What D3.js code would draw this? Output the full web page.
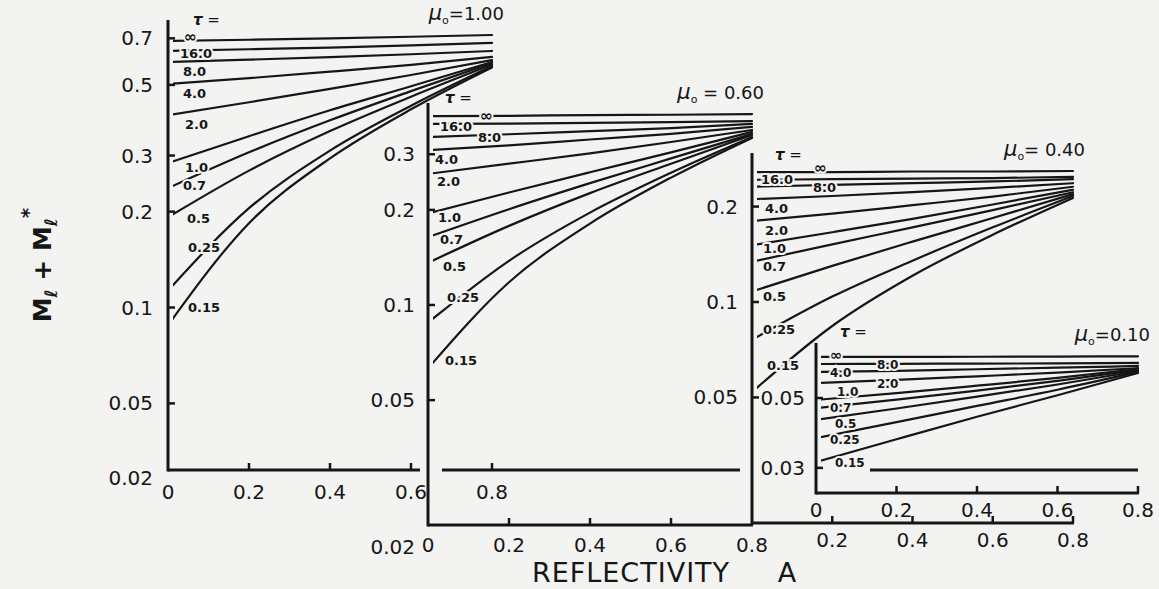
<!DOCTYPE html>
<html>
<head>
<meta charset="utf-8">
<script src="https://cdn.jsdelivr.net/npm/d3@7"></script>
<style>
body { margin: 0; background: #f3f3f1; }
svg { display: block; }
text { font-family: "DejaVu Sans", sans-serif; fill: #161616; }
</style>
</head>
<body>
<svg width="1159" height="589"></svg>
<script>
var reflectivity = [0, 0.2, 0.4, 0.6, 0.8];

var tau = ["∞", "16.0", "8.0", "4.0", "2.0", "1.0", "0.7", "0.5", "0.25", "0.15"];
var tau010 = ["∞", "8.0", "4.0", "2.0", "1.0", "0.7", "0.5", "0.25", "0.15"];

// M + M* for each tau, mu0 = 1.00
var mu100 = [
  [0.687, 0.693, 0.700, 0.708, 0.717],
  [0.639, 0.647, 0.655, 0.665, 0.677],
  [0.590, 0.600, 0.611, 0.624, 0.639],
  [0.503, 0.525, 0.550, 0.578, 0.612],
  [0.402, 0.441, 0.486, 0.537, 0.598],
  [0.284, 0.345, 0.416, 0.495, 0.590],
  [0.237, 0.307, 0.387, 0.478, 0.586],
  [0.192, 0.269, 0.358, 0.459, 0.579],
  [0.113, 0.205, 0.311, 0.430, 0.573],
  [0.088, 0.184, 0.294, 0.419, 0.567]
];
// mu0 = 0.60
var mu060 = [
  [0.396, 0.397, 0.399, 0.400, 0.402],
  [0.374, 0.375, 0.377, 0.379, 0.382],
  [0.340, 0.347, 0.355, 0.363, 0.374],
  [0.309, 0.320, 0.334, 0.348, 0.366],
  [0.260, 0.280, 0.302, 0.328, 0.358],
  [0.195, 0.227, 0.263, 0.304, 0.353],
  [0.164, 0.201, 0.243, 0.291, 0.348],
  [0.136, 0.178, 0.226, 0.280, 0.345],
  [0.088, 0.138, 0.196, 0.262, 0.340],
  [0.063, 0.118, 0.181, 0.253, 0.338]
];
// mu0 = 0.40
var mu040 = [
  [0.257, 0.257, 0.258, 0.258, 0.259],
  [0.243, 0.244, 0.245, 0.246, 0.248],
  [0.231, 0.234, 0.237, 0.240, 0.244],
  [0.211, 0.216, 0.222, 0.229, 0.237],
  [0.180, 0.190, 0.202, 0.215, 0.231],
  [0.151, 0.166, 0.183, 0.203, 0.226],
  [0.134, 0.152, 0.172, 0.195, 0.222],
  [0.108, 0.130, 0.155, 0.184, 0.219],
  [0.076, 0.104, 0.135, 0.172, 0.216],
  [0.052, 0.084, 0.121, 0.163, 0.213]
];
// mu0 = 0.10
var mu010 = [
  [0.0675, 0.0675, 0.0676, 0.0677, 0.0678],
  [0.0641, 0.0642, 0.0643, 0.0644, 0.0646],
  [0.0605, 0.0610, 0.0617, 0.0624, 0.0632],
  [0.0558, 0.0571, 0.0586, 0.0602, 0.0622],
  [0.0493, 0.0518, 0.0547, 0.0579, 0.0618],
  [0.0464, 0.0494, 0.0528, 0.0567, 0.0614],
  [0.0426, 0.0463, 0.0505, 0.0552, 0.0609],
  [0.0373, 0.0419, 0.0472, 0.0531, 0.0605],
  [0.0313, 0.0370, 0.0436, 0.0510, 0.0600]
];

var yTicks100 = [0.7, 0.5, 0.3, 0.2, 0.1, 0.05];
var yTicks060 = [0.3, 0.2, 0.1, 0.05];
var yTicks040 = [0.2, 0.1, 0.05];
var yTicks010 = [0.05, 0.03];
var xTicks = [0, 0.2, 0.4, 0.6, 0.8];

var svg = d3.select("svg");
var paper = "#f3f3f1", ink = "#161616";

// layout of the four overlapping panels (pixels)
var panels = [
  { mu: "=1.00", tau: tau, values: mu100, yTicks: yTicks100, bottomLabel: "0.02", bottomDy: 8,
    ox: 168, width: 324, top: 20, bottom: 470, yRef: [0.1, 307.5], decade: 318.5,
    xLabels: [0, 0.2, 0.4, 0.6, 0.8], xTickMarks: [0.2, 0.4, 0.6, 0.8], xLabelDy: 22, yLabelGap: 15,
    tauPos: [25, 0], labelSize: 13, drawXAxis: false,
    labels: [[16,-4],[12,3],[15,10],[15,9],[17,9],[17,4],[15,-3],[19,1],[20,-43],[20,-18]] },
  { mu: " = 0.60", tau: tau, values: mu060, yTicks: yTicks060, bottomLabel: "0.02", bottomDy: 22,
    ox: 428, width: 324, top: 103, bottom: 525, yRef: [0.1, 305], decade: 316,
    xLabels: [0, 0.2, 0.4, 0.6, 0.8], xTickMarks: [0.2, 0.4, 0.6], xLabelDy: 20, yLabelGap: 13,
    tauPos: [17, -5], labelSize: 13, drawXAxis: true,
    labels: [[52,0],[12,3],[50,0],[7,9],[9,8],[10,4],[12,2],[15,4],[19,-25],[17,-8]] },
  { mu: "= 0.40", tau: tau, values: mu040, yTicks: yTicks040, bottomLabel: null,
    ox: 752, width: 321, top: 153, bottom: 523, yRef: [0.1, 302], decade: 317,
    xLabels: [0.2, 0.4, 0.6, 0.8], xTickMarks: [0.2, 0.4, 0.6, 0.8], xLabelDy: 17, yLabelGap: 14,
    tauPos: [23, 2], labelSize: 13, drawXAxis: true,
    labels: [[62,-4],[9,0],[61,1],[13,9],[13,9],[11,3],[11,5],[11,5],[11,-10],[15,-27]] },
  { mu: "=0.10", tau: tau010, values: mu010, yTicks: yTicks010, bottomLabel: null,
    ox: 816, width: 322, top: 343, bottom: 493, yRef: [0.05, 398], decade: 315,
    xLabels: [0, 0.2, 0.4, 0.6, 0.8], xTickMarks: [0.2, 0.4, 0.6, 0.8], xLabelDy: 17, yLabelGap: 11,
    tauPos: [24, -11], labelSize: 12, drawXAxis: true,
    labels: [[14,-2],[61,1],[14,1],[61,1],[21,-8],[14,0],[19,4],[14,2],[19,1]] }
];

// panel 1 base line runs on behind the other panels
var baseline100 = [[168, 420], [442, 740], [870, 1138]];

panels.forEach(function (p, k) {
  var x = d3.scaleLinear().domain([0, 0.8]).range([p.ox, p.ox + p.width]);
  var y = d3.scaleLog().domain([p.yRef[0], p.yRef[0] * 10]).range([p.yRef[1], p.yRef[1] - p.decade]);
  var g = svg.append("g");

  // curves stop a few pixels short of the axis, as drawn
  var clipId = "clip" + k;
  svg.append("clipPath").attr("id", clipId).append("rect")
    .attr("x", p.ox + 5).attr("y", 0).attr("width", p.width + 10).attr("height", 589);

  var line = d3.line()
    .x(function (d, i) { return x(reflectivity[i]); })
    .y(function (d) { return y(d); })
    .curve(d3.curveMonotoneX);

  g.append("g").attr("clip-path", "url(#" + clipId + ")")
    .selectAll("path").data(p.values).enter().append("path")
    .attr("d", line)
    .attr("fill", "none").attr("stroke", ink).attr("stroke-width", 2.2)
    .attr("stroke-linecap", "round");

  // axes
  g.append("line").attr("x1", p.ox).attr("x2", p.ox).attr("y1", p.top).attr("y2", p.bottom + 1.5)
    .attr("stroke", ink).attr("stroke-width", 3);
  if (p.drawXAxis) {
    g.append("line").attr("x1", p.ox).attr("x2", x(0.8) + 1).attr("y1", p.bottom).attr("y2", p.bottom)
      .attr("stroke", ink).attr("stroke-width", 3);
  } else {
    baseline100.forEach(function (s) {
      g.append("line").attr("x1", s[0]).attr("x2", s[1]).attr("y1", p.bottom).attr("y2", p.bottom)
        .attr("stroke", ink).attr("stroke-width", 3);
    });
  }
  g.selectAll(".xt").data(p.xTickMarks).enter().append("line")
    .attr("x1", function (d) { return x(d); }).attr("x2", function (d) { return x(d); })
    .attr("y1", p.bottom).attr("y2", p.bottom - 7)
    .attr("stroke", ink).attr("stroke-width", 2.5);

  g.selectAll(".xl").data(p.xLabels).enter().append("text")
    .attr("x", function (d) { return x(d); })
    .attr("y", p.bottom + p.xLabelDy)
    .attr("text-anchor", "middle").attr("dominant-baseline", "central")
    .style("font-size", "20px")
    .text(function (d) { return d === 0 ? "0" : d3.format(".1f")(d); });

  g.selectAll(".yt").data(p.yTicks).enter().append("line")
    .attr("x1", p.ox).attr("x2", p.ox + 7)
    .attr("y1", function (d) { return y(d); }).attr("y2", function (d) { return y(d); })
    .attr("stroke", ink).attr("stroke-width", 2.5);
  g.selectAll(".yl").data(p.yTicks).enter().append("text")
    .attr("x", p.ox - p.yLabelGap).attr("y", function (d) { return y(d); })
    .attr("text-anchor", "end").attr("dominant-baseline", "central")
    .style("font-size", "20px")
    .text(function (d) { return String(d); });
  if (p.bottomLabel) {
    g.append("text").attr("x", p.ox - p.yLabelGap).attr("y", p.bottom + p.bottomDy)
      .attr("text-anchor", "end").attr("dominant-baseline", "central")
      .style("font-size", "20px").text(p.bottomLabel);
  }

  // tau labels on the curves, knocked out of the lines
  g.selectAll(".lab").data(p.tau).enter().append("text")
    .attr("x", function (d, i) { return p.ox + p.labels[i][0]; })
    .attr("y", function (d, i) { return y(p.values[i][0]) + p.labels[i][1]; })
    .attr("dominant-baseline", "central")
    .style("font-size", function (d) { return (d === "∞" ? p.labelSize * 1.2 : p.labelSize) + "px"; })
    .style("font-weight", "bold")
    .attr("stroke", paper).attr("stroke-width", 4).attr("paint-order", "stroke")
    .text(function (d) { return d; });

  // "tau =" heading
  var th = g.append("text").attr("x", p.ox + p.tauPos[0]).attr("y", p.top + p.tauPos[1])
    .attr("dominant-baseline", "central").style("font-size", "15px");
  th.append("tspan").style("font-style", "italic").style("font-weight", "bold").text("τ");
  th.append("tspan").text(" =");

  // mu0 label at the right end of the infinity curve
  var mt = g.append("text").attr("x", x(0.8) + 12).attr("y", y(p.values[0][4]) - 15)
    .attr("text-anchor", "end").style("font-size", "18px");
  mt.append("tspan").style("font-style", "italic").style("font-size", "21px").text("μ");
  mt.append("tspan").attr("dy", 4).style("font-size", "11px").text("o");
  mt.append("tspan").attr("dy", -4).text(p.mu);
});

// axis titles
var yt = svg.append("text").attr("transform", "translate(51,265) rotate(-90)")
  .attr("text-anchor", "middle").style("font-size", "25px").style("font-weight", "bold");
yt.append("tspan").text("M");
yt.append("tspan").attr("dy", 6).style("font-size", "17px").text("ℓ");
yt.append("tspan").attr("dy", -6).text(" + M");
yt.append("tspan").attr("dy", 6).style("font-size", "17px").text("ℓ");
yt.append("tspan").attr("dy", -22).style("font-size", "20px").text("*");

svg.append("text").attr("x", 631).attr("y", 582).attr("text-anchor", "middle")
  .style("font-size", "27px").style("letter-spacing", "1px").text("REFLECTIVITY");
svg.append("text").attr("x", 787).attr("y", 582).attr("text-anchor", "middle")
  .style("font-size", "27px").text("A");
</script>
</body>
</html>
